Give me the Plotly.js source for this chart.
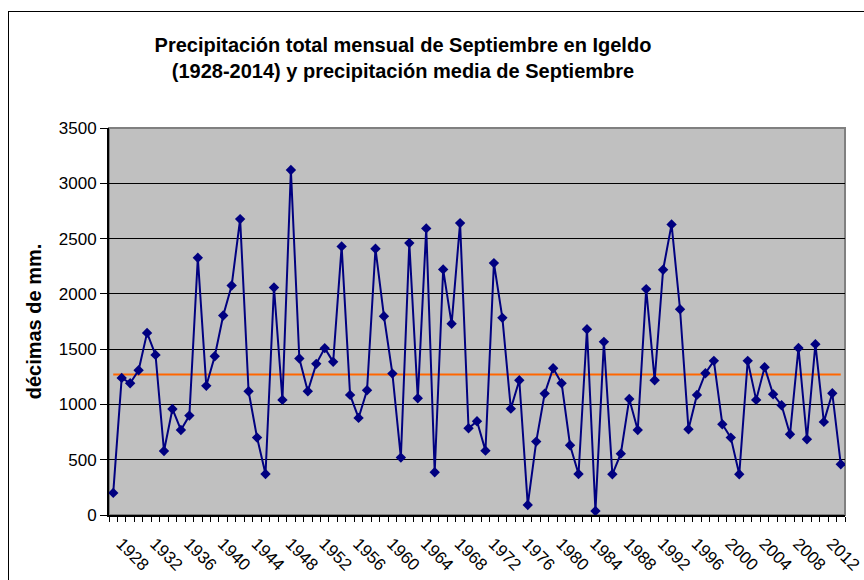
<!DOCTYPE html>
<html>
<head>
<meta charset="utf-8">
<script src="https://cdn.plot.ly/plotly-3.0.1.min.js"></script>
<style>
html,body{margin:0;padding:0;background:#fff;overflow:hidden;width:864px;height:580px;}
#chart{position:absolute;left:0;top:0;width:864px;height:580px;}
#frame{position:absolute;left:8px;top:11px;width:900px;height:620px;border:1px solid #000;pointer-events:none;}
</style>
</head>
<body>
<div id="chart"></div>
<div id="frame"></div>
<script>
const years = [1928,1929,1930,1931,1932,1933,1934,1935,1936,1937,1938,1939,1940,1941,1942,1943,1944,1945,1946,1947,1948,1949,1950,1951,1952,1953,1954,1955,1956,1957,1958,1959,1960,1961,1962,1963,1964,1965,1966,1967,1968,1969,1970,1971,1972,1973,1974,1975,1976,1977,1978,1979,1980,1981,1982,1983,1984,1985,1986,1987,1988,1989,1990,1991,1992,1993,1994,1995,1996,1997,1998,1999,2000,2001,2002,2003,2004,2005,2006,2007,2008,2009,2010,2011,2012,2013,2014];
const precipitacion = [200,1240,1192,1309,1647,1448,579,959,769,899,2326,1168,1436,1804,2076,2676,1119,700,371,2058,1041,3120,1415,1119,1367,1509,1385,2429,1086,878,1128,2408,1798,1279,519,2459,1056,2592,386,2221,1729,2640,784,848,582,2278,1783,962,1219,91,664,1098,1327,1192,631,371,1680,36,1566,368,555,1050,769,2043,1219,2218,2628,1861,775,1086,1282,1394,821,700,368,1394,1041,1337,1092,993,730,1511,685,1545,842,1101,459];
const mediaYears = [1928,2014];
const mediaValues = [1270,1270];
const tickYears = [1928,1932,1936,1940,1944,1948,1952,1956,1960,1964,1968,1972,1976,1980,1984,1988,1992,1996,2000,2004,2008,2012];
const tickLabels = ["1928","1932","1936","1940","1944","1948","1952","1956","1960","1964","1968","1972","1976","1980","1984","1988","1992","1996","2000","2004","2008","2012"];

const traces = [
  {x: mediaYears, y: mediaValues, type:'scatter', mode:'lines',
   line:{color:'#FF6600', width:2}, hoverinfo:'skip', showlegend:false},
  {x: years, y: precipitacion, type:'scatter', mode:'lines+markers',
   line:{color:'#000080', width:2},
   marker:{symbol:'diamond', size:8, color:'#000080'}, showlegend:false}
];

const layout = {
  width:864, height:580,
  margin:{l:109, r:19, t:128, b:65},
  paper_bgcolor:'#ffffff',
  plot_bgcolor:'#C0C0C0',
  font:{family:'"Liberation Sans", Arial, sans-serif', color:'#000', size:17},
  title:{text:'<b>Precipitación total mensual de Septiembre en Igeldo<br>(1928-2014) y precipitación media de Septiembre</b>',
    font:{size:20, color:'#000'}, x:0.4664, xanchor:'center', xref:'container',
    y:1-52/580, yanchor:'top', yref:'container'},
  xaxis:{
    range:[1927.5, 2014.5], tickmode:'array', tickvals:tickYears, ticktext:tickLabels,
    tickangle:45, ticks:'', showgrid:false, zeroline:false,
    showline:true, linecolor:'#000', linewidth:2,
    tickfont:{size:17}, ticklabelstandoff:10, ticklabelshift:8,
    minor:{tickmode:'linear', tick0:1927.5, dtick:1, ticks:'outside', ticklen:5, tickcolor:'#000', tickwidth:1, showgrid:false}
  },
  yaxis:{
    range:[0,3500], dtick:500, tick0:0, ticks:'outside', ticklen:7, tickcolor:'#000', tickwidth:1,
    showgrid:true, gridcolor:'#000', gridwidth:1, zeroline:false,
    showline:true, linecolor:'#000', linewidth:2,
    tickfont:{size:17},
    title:{text:'<b>décimas de mm.</b>', font:{size:20}, standoff:12}
  },
  shapes:[
    {type:'rect', xref:'paper', yref:'paper', x0:0, x1:1, y0:0, y1:1,
     line:{color:'#808080', width:2}, layer:'below', fillcolor:'rgba(0,0,0,0)'}
  ]
};

Plotly.newPlot('chart', traces, layout, {displayModeBar:false, staticPlot:true});
</script>
</body>
</html>
